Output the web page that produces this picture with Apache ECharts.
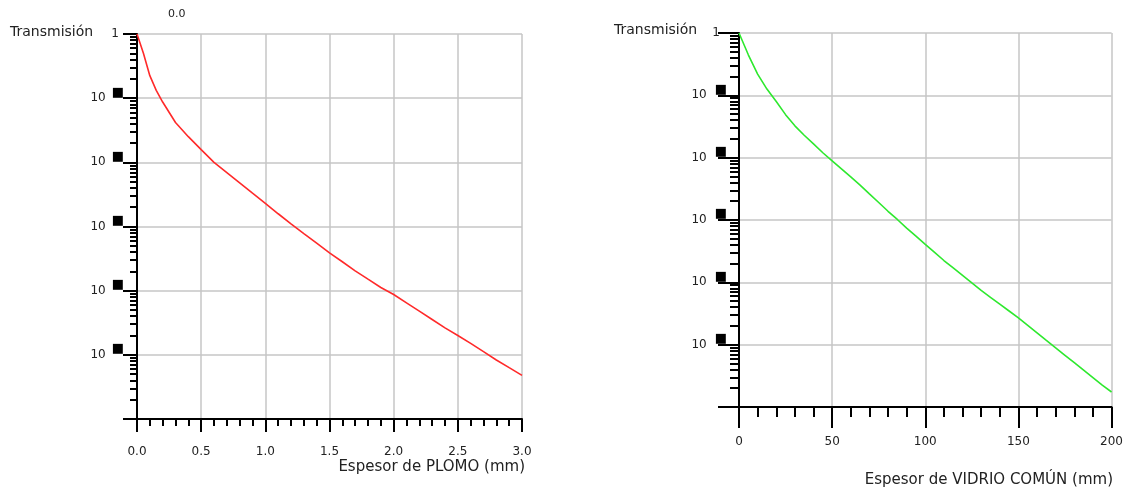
<!DOCTYPE html>
<html><head><meta charset="utf-8">
<script src="https://cdn.jsdelivr.net/npm/echarts@6/dist/echarts.min.js"></script>
<style>html,body{margin:0;padding:0;background:#fff}#c{width:1126px;height:490px}</style>
</head><body><div id="c"></div>
<script>
// ---- data ----
const leadThickness = [0,0.05,0.1,0.15,0.2,0.3,0.4,0.5,0.6,0.7,0.8,0.9,1.0,1.1,1.2,1.3,1.4,1.5,1.6,1.7,1.8,1.9,2.0,2.1,2.2,2.3,2.4,2.5,2.6,2.7,2.8,2.9,3.0];
const leadTransmission = [1,0.501,0.224,0.132,0.0871,0.0417,0.0251,0.0158,0.01,0.00692,0.00479,0.00331,0.00229,0.00158,0.0011,7.76e-4,5.5e-4,3.89e-4,2.82e-4,2.04e-4,1.51e-4,1.12e-4,8.71e-5,6.46e-5,4.79e-5,3.55e-5,2.63e-5,2.0e-5,1.51e-5,1.12e-5,8.32e-6,6.31e-6,4.79e-6];
const glassThickness = [0,5,10,15,20,25,30,35,40,45,50,55,60,65,70,75,80,85,90,95,100,105,110,115,120,125,130,135,140,145,150,155,160,165,170,175,180,185,190,195,200];
const glassTransmission = [1,0.447,0.219,0.126,0.0794,0.049,0.0324,0.0229,0.0166,0.012,0.00891,0.00661,0.0049,0.00363,0.00263,0.00191,0.00138,0.00102,7.41e-4,5.5e-4,4.07e-4,3.02e-4,2.24e-4,1.7e-4,1.29e-4,9.77e-5,7.41e-5,5.75e-5,4.47e-5,3.47e-5,2.69e-5,2.04e-5,1.55e-5,1.17e-5,8.91e-6,6.76e-6,5.13e-6,3.89e-6,2.95e-6,2.24e-6,1.74e-6];
const decadeExponents = [0,-1,-2,-3,-4,-5,-6];
const minorMantissas = [2,3,4,5,6,7,8,9];
const yAxisTitle = 'Transmisión';
const leadTitle = 'Espesor de PLOMO (mm)';
const glassTitle = 'Espesor de VIDRIO COMÚN (mm)';
const topStrayLabel = '0.0';

// ---- helpers ----
const minorTickValues = [];
decadeExponents.slice(1).forEach(e => minorMantissas.forEach(m => minorTickValues.push(m * Math.pow(10, e))));

const FONT = 'DejaVu Sans';
const TXT = '#222';
const GRID = '#c6c6c6';

function yFmt(v) {
  if (Math.abs(v - 1) < 1e-9) return '{one|1}';
  if (v < 2e-6) return '';
  return '{n|10}{b|■}';
}
function richFor(gap, onePad) {
  return {
    one: {fontFamily: FONT, fontSize: 12, color: TXT, lineHeight: 12, padding: [6, onePad, 6, 0]},
    n: {fontFamily: FONT, fontSize: 12, color: TXT, lineHeight: 12, padding: [6, 0, 6, 0]},
    b: {fontFamily: FONT, fontSize: 13, color: '#000', lineHeight: 10, padding: [1, 0, 13, gap]}
  };
}

function xAxisCfg(gridIndex, max, interval, majorLen, minorLen, margin, fmt) {
  return {
    type: 'value', gridIndex, min: 0, max, interval,
    axisLine: {show: true, onZero: false, lineStyle: {color: '#000', width: 2}},
    axisTick: {show: true, inside: false, length: majorLen, lineStyle: {color: '#000', width: 2}},
    minorTick: {show: true, splitNumber: 5, length: minorLen, lineStyle: {color: '#000', width: 2}},
    axisLabel: {show: true, margin, fontFamily: FONT, fontSize: 12, color: TXT, formatter: fmt},
    splitLine: {show: true, showMinLine: false, lineStyle: {color: GRID, width: 1.5}},
    minorSplitLine: {show: false}
  };
}
function yMajorCfg(gridIndex, majorLen, margin, gap, onePad) {
  return {
    type: 'log', logBase: 10, gridIndex, min: 1e-6, max: 1,
    axisLine: {show: true, onZero: false, lineStyle: {color: '#000', width: 2}},
    axisTick: {show: true, inside: false, length: majorLen, lineStyle: {color: '#000', width: 2}},
    axisLabel: {show: true, margin, formatter: yFmt, rich: richFor(gap, onePad)},
    splitLine: {show: true, showMinLine: false, lineStyle: {color: GRID, width: 1.5}},
    minorTick: {show: false}
  };
}
function yMinorCfg(gridIndex, len) {
  return {
    type: 'log', logBase: 10, gridIndex, min: 1e-6, max: 1, position: 'left',
    axisLine: {show: false},
    axisTick: {show: true, inside: false, length: len, customValues: minorTickValues, lineStyle: {color: '#000', width: 2}},
    axisLabel: {show: false},
    splitLine: {show: false}
  };
}

const chart = echarts.init(document.getElementById('c'), null, {renderer: 'canvas'});
chart.setOption({
  animation: false,
  backgroundColor: '#fff',
  grid: [
    {left: 137, top: 34, width: 385, height: 385},
    {left: 739, top: 33, width: 374, height: 374}
  ],
  xAxis: [
    xAxisCfg(0, 3, 0.5, 13, 7, 27, v => v.toFixed(1)),
    xAxisCfg(1, 200, 50, 21, 10, 29, v => String(v))
  ],
  yAxis: [
    yMajorCfg(0, 14, 13, 6, 5),
    yMinorCfg(0, 7),
    yMajorCfg(1, 21, 12, 8, 7),
    yMinorCfg(1, 9)
  ],
  series: [
    {type: 'line', xAxisIndex: 0, yAxisIndex: 0, showSymbol: false, symbol: 'none',
      data: leadThickness.map((x, i) => [x, leadTransmission[i]]),
      lineStyle: {color: '#ff2a2a', width: 1.6}},
    {type: 'line', xAxisIndex: 1, yAxisIndex: 2, showSymbol: false, symbol: 'none',
      data: glassThickness.map((x, i) => [x, glassTransmission[i]]),
      lineStyle: {color: '#2ee82e', width: 1.6}}
  ],
  graphic: [
    {type: 'text', left: 10, top: 25, style: {text: yAxisTitle, fontFamily: FONT, fontSize: 14, fill: TXT}},
    {type: 'text', left: 614, top: 23, style: {text: yAxisTitle, fontFamily: FONT, fontSize: 14, fill: TXT}},
    {type: 'text', left: 168, top: 9, style: {text: topStrayLabel, fontFamily: FONT, fontSize: 11, fill: TXT}},
    {type: 'text', right: 1126 - 525, top: 460, style: {text: leadTitle, fontFamily: FONT, fontSize: 15, fill: TXT}},
    {type: 'text', right: 1126 - 1113, top: 473, style: {text: glassTitle, fontFamily: FONT, fontSize: 15, fill: TXT}}
  ]
});
</script></body></html>
